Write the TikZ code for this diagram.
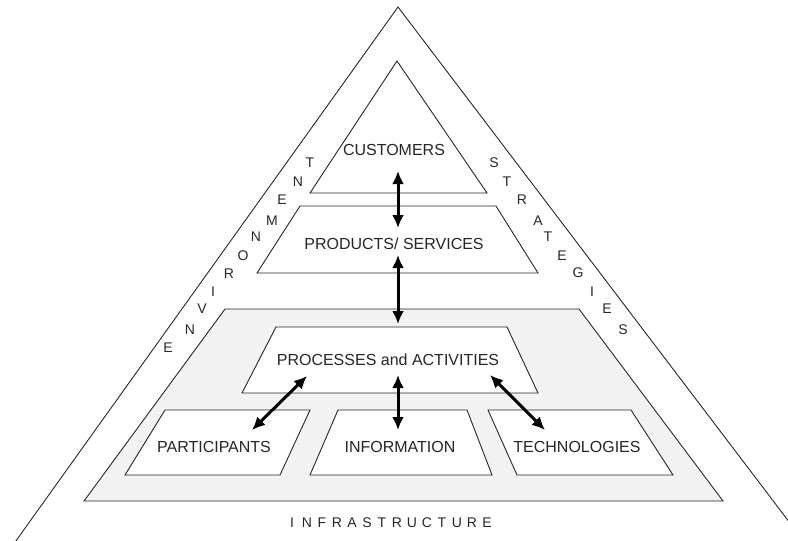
\documentclass[tikz,border=0pt]{standalone}
\usepackage{fontspec}
\setmainfont{Liberation Sans}
\usetikzlibrary{arrows.meta}
\definecolor{infragray}{RGB}{242,242,242}
\tikzset{> = Latex}

\begin{document}
\begin{tikzpicture}[x=1pt,y=-1pt,line width=.9pt,color=black!85,
    lbl/.style={anchor=base,inner sep=1pt,font=\fontsize{16}{18}\selectfont},
    side/.style={inner sep=0pt,font=\fontsize{14}{16}\selectfont}]
	\useasboundingbox (0,0) rectangle (788,541);
	% outer pyramid and the levels
	\draw (8,552)--(398,7)--(812,552);
	\draw (397,61)--(487,193)--(310,193)--cycle;
	\draw (300,206)--(496,206)--(538,273)--(257,273)--cycle;
	\filldraw[fill=infragray] (225,309)--(579,309)--(723,501)--(84,501)--cycle;
	\filldraw[fill=white]
	    (276,327)--(507,327)--(538,393)--(242,393)--cycle
	    (165,410)--(310,410)--(280,475)--(125,475)--cycle
	    (338,410)--(467,410)--(492,475)--(310,475)--cycle
	    (488,410)--(631,410)--(673,475)--(517,475)--cycle;
	\node[lbl] (cust) at (394,155) {CUSTOMERS};
	\node[lbl] (prod) at (394,249) {PRODUCTS/ SERVICES};
	\node[lbl] (proc) at (388,365) {PROCESSES and ACTIVITIES};
	\node[lbl] (part) at (214,452) {PARTICIPANTS};
	\node[lbl] (info) at (400,452) {INFORMATION};
	\node[lbl] (tech) at (577,452) {TECHNOLOGIES};
	% side texts
	\foreach \c/\x/\y [count=\i] in {E/168/348,N/190/330,V/202/309,I/213/292,R/229/274,
	    O/243/256,N/256/237,M/272/221,E/282/200,N/298/182,T/310/163}
	    \node[side] (env\i) at (\x,\y) {\c};
	\foreach \c/\x/\y [count=\i] in {S/494/163,T/507/182,R/522/200,A/538/221,T/548/237,
	    E/562/256,G/578/273,I/592/292,E/607/309,S/623/330}
	    \node[side] (str\i) at (\x,\y) {\c};
	\foreach \c [count=\i] in {I,N,F,R,A,S,T,R,U,C,T,U,R,E}
	    \node[side,anchor=base] (inf\i) at (277+15*\i,527) {\c};
	% links
	\coordinate (cu) at (398,171); \coordinate (pr1) at (398,228);
	\coordinate (pr2) at (398,255); \coordinate (pc) at (398,324);
	\coordinate (pc1) at (398,375); \coordinate (in) at (398,430);
	\coordinate (pc2) at (307,376); \coordinate (pa) at (252,430);
	\coordinate (pc3) at (490,375); \coordinate (te) at (545,430);
	\begin{scope}[line width=3pt,color=black,
	    arrows = {Latex[length=13pt,width=12pt]-Latex[length=13pt,width=12pt]}]
	    \draw (cu) -- (pr1);
	    \draw (pr2) -- (pc);
	    \draw (pc1) -- (in);
	    \draw (pc2) -- (pa);
	    \draw (pc3) -- (te);
	\end{scope}
\end{tikzpicture}
\end{document}
